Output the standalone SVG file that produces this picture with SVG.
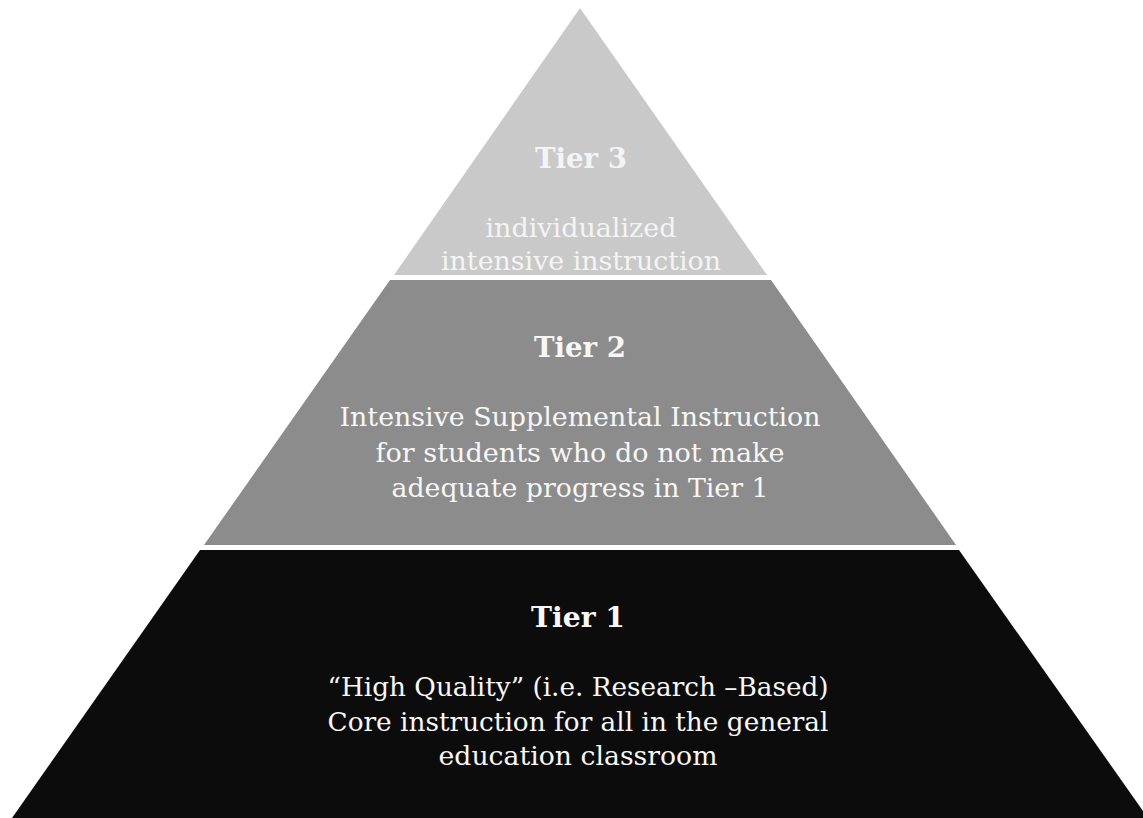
<svg xmlns="http://www.w3.org/2000/svg" width="1143" height="818" viewBox="0 0 1143 818">
<style>
.t{font-family:"DejaVu Serif","Liberation Serif",serif;text-anchor:middle;}
.h{font-weight:bold;font-size:27px;}
.b{font-size:26px;}
.l3{fill:#f4f4f4;}
.lw{fill:#f7f7f7;}
</style>
<rect width="1143" height="818" fill="#ffffff"/>
<g id="tier3">
<polygon points="580,8 767,275 394,275" fill="#c9c9c9"/>
<text class="t h l3" x="581" y="168" textLength="92" lengthAdjust="spacingAndGlyphs">Tier 3</text>
<text class="t b l3" x="581" y="237" textLength="191" lengthAdjust="spacingAndGlyphs">individualized</text>
<text class="t b l3" x="581" y="270" textLength="280" lengthAdjust="spacingAndGlyphs">intensive instruction</text>
</g>
<g id="tier2">
<polygon points="390,280 771,280 956,545 204,545" fill="#8c8c8c"/>
<text class="t h lw" x="580" y="357" textLength="92" lengthAdjust="spacingAndGlyphs">Tier 2</text>
<text class="t b lw" x="580" y="426" textLength="481" lengthAdjust="spacingAndGlyphs">Intensive Supplemental Instruction</text>
<text class="t b lw" x="580" y="462" textLength="409" lengthAdjust="spacingAndGlyphs">for students who do not make</text>
<text class="t b lw" x="580" y="497" textLength="377" lengthAdjust="spacingAndGlyphs">adequate progress in Tier 1</text>
</g>
<g id="tier1">
<polygon points="200,550 959,550 1148,818 12,818" fill="#0c0c0c"/>
<text class="t h lw" x="578" y="627" textLength="94" lengthAdjust="spacingAndGlyphs">Tier 1</text>
<text class="t b lw" x="578" y="696" textLength="501" lengthAdjust="spacingAndGlyphs">“High Quality” (i.e. Research –Based)</text>
<text class="t b lw" x="578" y="731" textLength="501" lengthAdjust="spacingAndGlyphs">Core instruction for all in the general</text>
<text class="t b lw" x="578" y="765" textLength="279" lengthAdjust="spacingAndGlyphs">education classroom</text>
</g>
<g id="connectors"></g>
</svg>
